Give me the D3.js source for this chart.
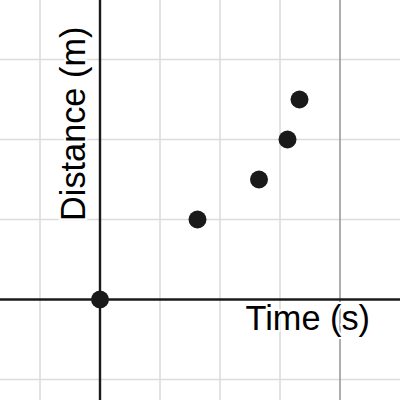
<!DOCTYPE html>
<html>
<head>
<meta charset="utf-8">
<script src="https://cdn.jsdelivr.net/npm/d3@7"></script>
<style>
  body { margin: 0; background: #fff; }
  svg { display: block; }
  text { font-family: "Liberation Sans", Arial, sans-serif; }
</style>
</head>
<body>
<div id="chart"></div>
<script>
// data
var timeVals = [0, 3.25, 5.3, 6.25, 6.65];
var distVals = [0, 2, 3, 4, 5];

// grid lines
var xGridTicks = [-2, 2, 4, 6];
var xDarkTicks = [8];
var yGridTicks = [-2, 2, 4, 6];

var xLabelText = 'Time (s)';
var yLabelText = 'Distance (m)';

var svgWidth = 400;
var svgHeight = 400;

var svg = d3.select('#chart').append('svg')
    .attr('width', svgWidth)
    .attr('height', svgHeight);

// 30px per unit across, 40px per unit down
var xscale = d3.scaleLinear()
    .domain([-100 / 30, 300 / 30])
    .range([0, svgWidth]);

var yscale = d3.scaleLinear()
    .domain([-100.5 / 40, 299.5 / 40])
    .range([svgHeight, 0]);

// light grid
svg.selectAll('.vgrid')
    .data(xGridTicks)
    .enter()
    .append('line')
    .attr('x1', d => xscale(d))
    .attr('x2', d => xscale(d))
    .attr('y1', 0)
    .attr('y2', svgHeight)
    .attr('stroke', '#dcdcdc')
    .attr('stroke-width', 1.6);

svg.selectAll('.hgrid')
    .data(yGridTicks)
    .enter()
    .append('line')
    .attr('x1', 0)
    .attr('x2', svgWidth)
    .attr('y1', d => yscale(d))
    .attr('y2', d => yscale(d))
    .attr('stroke', '#dcdcdc')
    .attr('stroke-width', 1.6);

svg.selectAll('.vdark')
    .data(xDarkTicks)
    .enter()
    .append('line')
    .attr('x1', d => xscale(d))
    .attr('x2', d => xscale(d))
    .attr('y1', 0)
    .attr('y2', svgHeight)
    .attr('stroke', '#9a9a9a')
    .attr('stroke-width', 1.6);

// axes
svg.append('line')
    .attr('x1', 0)
    .attr('x2', svgWidth)
    .attr('y1', yscale(0))
    .attr('y2', yscale(0))
    .attr('stroke', '#1a1a1a')
    .attr('stroke-width', 2.4);

svg.append('line')
    .attr('x1', xscale(0))
    .attr('x2', xscale(0))
    .attr('y1', 0)
    .attr('y2', svgHeight)
    .attr('stroke', '#1a1a1a')
    .attr('stroke-width', 2.4);

// labels with white halo
svg.append('text')
    .attr('x', 370)
    .attr('y', 330)
    .attr('text-anchor', 'end')
    .attr('font-size', 34.3)
    .attr('fill', '#000')
    .attr('stroke', '#fff')
    .attr('stroke-width', 4)
    .attr('paint-order', 'stroke')
    .text(xLabelText);

svg.append('text')
    .attr('transform', 'translate(85, 221) rotate(-90)')
    .attr('text-anchor', 'start')
    .attr('font-size', 34.3)
    .attr('fill', '#000')
    .attr('stroke', '#fff')
    .attr('stroke-width', 4)
    .attr('paint-order', 'stroke')
    .text(yLabelText);

// points
svg.selectAll('circle')
    .data(timeVals)
    .enter()
    .append('circle')
    .attr('cx', d => xscale(d))
    .attr('cy', (d, i) => yscale(distVals[i]))
    .attr('r', 9)
    .attr('fill', '#1a1a1a');
</script>
</body>
</html>
